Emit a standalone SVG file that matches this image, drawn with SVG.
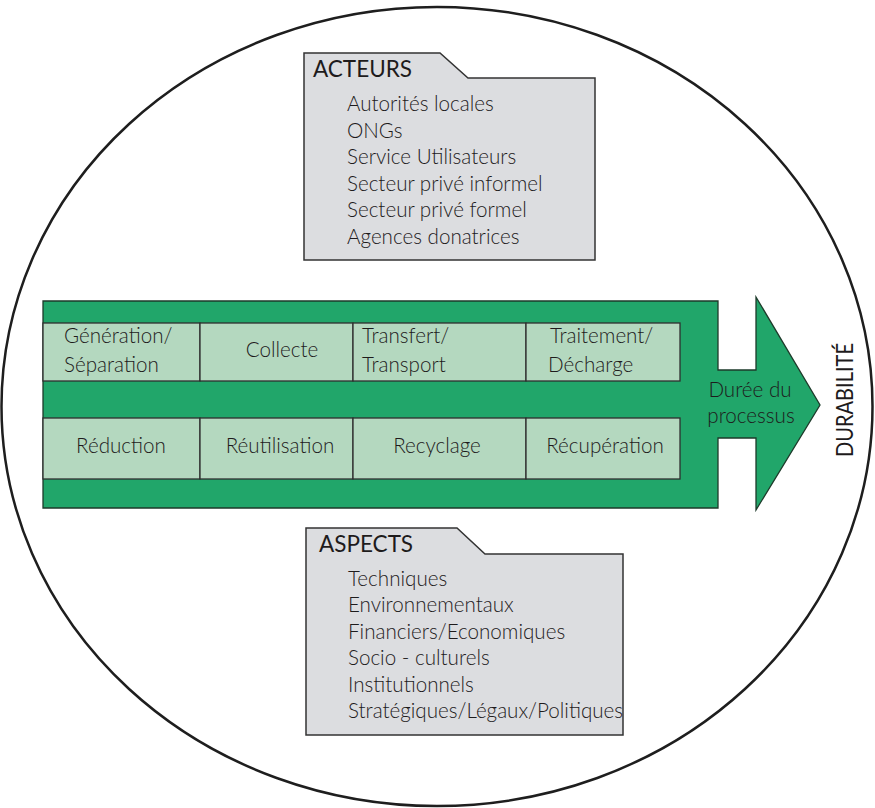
<svg xmlns="http://www.w3.org/2000/svg" width="875" height="808" viewBox="0 0 875 808">
<style>
text{font-family:Lato,"Liberation Sans",sans-serif;fill:#1e1b1c;font-size:20.6px;font-weight:300}
.folder{fill:#dcdde0;stroke:#333;stroke-width:1.5}
.box{fill:#b4d8bf;stroke:#2e2e2e;stroke-width:1.3}
.head{font-size:22.5px;font-weight:400}
.vert{font-size:23px;font-weight:400}
.c{text-anchor:middle}
</style>
<rect width="875" height="808" fill="#fff"/>
<g id="boundary">
<ellipse cx="437" cy="406.5" rx="435.5" ry="399.5" fill="none" stroke="#1e1e1e" stroke-width="2.5"/>
</g>
<g id="acteurs">
<path class="folder" d="M304,53 L440,53 L468,78 L595,78 L595,260 L304,260 Z"/>
<text class="head" x="313" y="77">ACTEURS</text>
<text x="347" y="111">Autorités locales</text>
<text x="347" y="137.5">ONGs</text>
<text x="347" y="164">Service Utilisateurs</text>
<text x="347" y="190.5">Secteur privé informel</text>
<text x="347" y="217">Secteur privé formel</text>
<text x="347" y="243.5">Agences donatrices</text>
</g>
<g id="process">
<path d="M43,301 L718,301 L718,370 L756,370 L756,297 L820,405 L756,510 L756,438 L718,438 L718,508 L43,508 Z" fill="#21a66a" stroke="#1d3a2a" stroke-width="1.3"/>
<text class="c" x="750" y="397">Durée du</text>
<text class="c" x="751" y="423">processus</text>
</g>
<g id="generation"><rect class="box" x="43" y="323" width="157" height="58"/><text x="64" y="343">Génération/</text><text x="64" y="372">Séparation</text></g>
<g id="collecte"><rect class="box" x="200" y="323" width="153" height="58"/><text class="c" x="282" y="357">Collecte</text></g>
<g id="transfert"><rect class="box" x="353" y="323" width="173" height="58"/><text x="362" y="343">Transfert/</text><text x="362" y="372">Transport</text></g>
<g id="traitement"><rect class="box" x="526" y="323" width="154" height="58"/><text x="550" y="343">Traitement/</text><text x="548" y="372">Décharge</text></g>
<g id="reduction"><rect class="box" x="43" y="418" width="157" height="61"/><text class="c" x="121" y="453">Réduction</text></g>
<g id="reutilisation"><rect class="box" x="200" y="418" width="153" height="61"/><text class="c" x="280" y="453">Réutilisation</text></g>
<g id="recyclage"><rect class="box" x="353" y="418" width="173" height="61"/><text class="c" x="437" y="453">Recyclage</text></g>
<g id="recuperation"><rect class="box" x="526" y="418" width="154" height="61"/><text class="c" x="605" y="453">Récupération</text></g>
<g id="durabilite">
<text class="vert" transform="translate(853,457) rotate(-90)" textLength="114" lengthAdjust="spacingAndGlyphs">DURABILITÉ</text>
</g>
<g id="aspects">
<path class="folder" d="M306,528 L457,528 L485,554 L623,554 L623,735 L306,735 Z"/>
<text class="head" x="319" y="552">ASPECTS</text>
<text x="348" y="585.5">Techniques</text>
<text x="348" y="612">Environnementaux</text>
<text x="348" y="638.5">Financiers/Economiques</text>
<text x="348" y="665">Socio - culturels</text>
<text x="348" y="691.5">Institutionnels</text>
<text x="348" y="718">Stratégiques/Légaux/Politiques</text>
</g>
<g id="connectors"></g>
</svg>
